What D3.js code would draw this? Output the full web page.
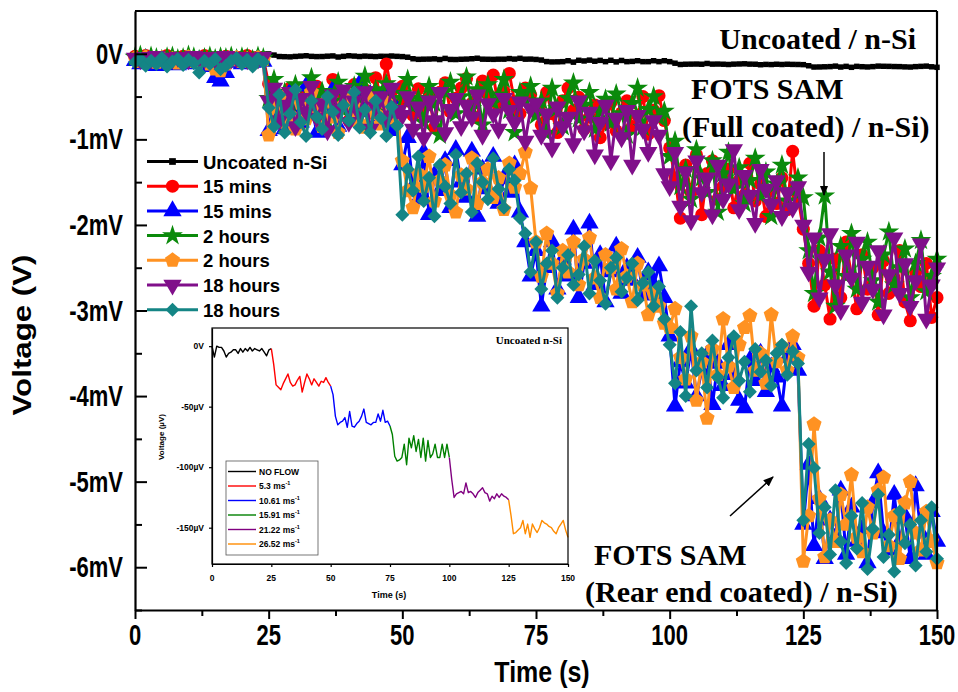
<!DOCTYPE html>
<html>
<head>
<meta charset="utf-8">
<script src="https://cdn.jsdelivr.net/npm/d3@7/dist/d3.min.js"></script>
<style>
  body { margin: 0; background: #fff; }
  svg { display: block; }
</style>
</head>
<body>
<svg id="chart" width="958" height="692"></svg>
<script>
// ---- data (1 s sampling, t = 0 ... 150 s) ----
const timeSec = d3.range(0, 151);

// Uncoated n-Si, voltage in µV (inset; the main plot shows the same trace in mV)
const uncoatedUV = [
  0,-9,0,-1,-1,-4,-9,-6,-5,-3,
  -3,-6,-2,-5,-2,-4,-1,-4,-2,-3,
  -4,-2,-5,-8,-3,-2,-15,-32,-34,-36,
  -31,-27,-23,-30,-33,-32,-28,-25,-38,-30,
  -23,-27,-32,-27,-30,-33,-29,-30,-26,-30,
  -33,-40,-58,-65,-63,-62,-59,-67,-54,-66,
  -67,-64,-62,-58,-52,-63,-64,-65,-63,-63,
  -56,-62,-53,-63,-62,-66,-73,-91,-95,-94,
  -92,-81,-98,-76,-84,-74,-87,-77,-92,-76,
  -95,-78,-92,-89,-81,-92,-92,-81,-92,-81,
  -92,-110,-125,-122,-121,-120,-122,-113,-121,-120,
  -122,-125,-121,-119,-117,-121,-122,-128,-124,-126,
  -122,-125,-122,-124,-125,-127,-140,-155,-154,-152,
  -150,-144,-155,-147,-158,-147,-151,-154,-150,-144,
  -146,-147,-149,-150,-153,-155,-150,-147,-144,-152,
  -158
];

// FOTS SAM (full coated) / n-Si, voltage in mV
const fullCoated15min = [
  -0.03,-0.06,-0.02,-0.05,-0.08,-0.04,-0.02,-0.06,-0.05,-0.03,-0.07,-0.04,-0.06,-0.02,-0.05,-0.08,-0.06,-0.03,-0.05,-0.04,-0.07,-0.02,-0.05,-0.04,-0.06,
  -0.35,-0.62,-0.48,-0.75,-0.40,-0.58,-0.82,-0.45,-0.66,-0.38,-0.71,-0.52,-0.30,-0.64,-0.47,-0.78,-0.36,-0.55,-0.42,-0.69,-0.28,-0.50,-0.12,-0.44,-0.60,
  -0.38,-0.55,-0.72,-0.41,-0.63,-0.50,-0.86,-0.45,-0.34,-0.68,-0.52,-0.40,-0.29,-0.58,-0.75,-0.32,-0.47,-0.25,-0.62,-0.44,-0.23,-0.56,-0.70,-0.40,-0.48,
  -0.62,-0.83,-0.45,-0.70,-0.92,-0.55,-0.40,-0.66,-0.51,-0.88,-0.74,-0.60,-0.98,-0.82,-0.57,-0.90,-0.69,-0.55,-0.85,-0.72,-0.50,-0.94,-0.66,-0.49,-0.78,
  -1.10,-1.45,-1.92,-1.30,-1.62,-1.18,-1.88,-1.40,-1.25,-1.70,-1.55,-1.35,-1.80,-1.48,-1.65,-1.28,-1.72,-1.52,-1.90,-1.60,-1.75,-1.45,-1.82,-1.14,-1.68,
  -2.05,-2.45,-2.95,-2.30,-2.70,-3.10,-2.40,-2.85,-2.20,-2.60,-2.98,-2.35,-2.75,-2.50,-3.05,-2.42,-2.80,-2.62,-2.30,-2.90,-3.12,-2.55,-2.72,-2.45,-3.08,-2.85
];
const fullCoated2h = [
  -0.04,-0.02,-0.06,-0.03,-0.05,-0.07,-0.04,-0.03,-0.06,-0.05,-0.02,-0.04,-0.07,-0.05,-0.03,-0.06,-0.04,-0.05,-0.03,-0.06,-0.04,-0.05,-0.07,-0.03,-0.05,
  -0.52,-0.30,-0.68,-0.45,-0.58,-0.36,-0.74,-0.50,-0.28,-0.62,-0.44,-0.80,-0.55,-0.33,-0.66,-0.48,-0.38,-0.72,-0.26,-0.57,-0.42,-0.64,-0.35,-0.52,-0.70,
  -0.46,-0.30,-0.62,-0.52,-0.80,-0.38,-0.58,-0.95,-0.44,-0.33,-0.70,-0.50,-0.27,-0.64,-0.42,-0.83,-0.36,-0.57,-0.48,-0.30,-0.66,-0.92,-0.45,-0.55,-0.38,
  -0.72,-0.55,-0.93,-0.40,-0.64,-0.85,-0.52,-0.34,-0.76,-0.60,-0.45,-0.88,-0.68,-0.53,-0.81,-0.47,-0.70,-0.95,-0.58,-0.40,-0.86,-0.65,-0.50,-0.75,-0.67,
  -1.20,-1.02,-1.55,-1.35,-1.70,-1.12,-1.45,-1.62,-1.25,-1.85,-1.40,-1.15,-1.58,-1.33,-1.75,-1.48,-1.22,-1.66,-1.38,-1.90,-1.52,-1.30,-1.72,-1.60,-1.45,
  -1.68,-2.30,-2.80,-2.15,-1.66,-2.55,-2.95,-2.25,-2.60,-2.10,-2.75,-2.40,-2.20,-2.65,-2.90,-2.35,-2.08,-2.70,-2.50,-2.28,-2.85,-2.45,-2.18,-2.78,-2.60,-2.40
];
const fullCoated18h = [
  -0.05,-0.07,-0.04,-0.06,-0.03,-0.05,-0.08,-0.06,-0.04,-0.05,-0.07,-0.03,-0.05,-0.06,-0.04,-0.07,-0.05,-0.03,-0.06,-0.05,-0.04,-0.07,-0.05,-0.06,-0.04,
  -0.55,-0.40,-0.78,-0.60,-0.45,-0.85,-0.52,-0.68,-0.38,-0.75,-0.58,-0.90,-0.48,-0.65,-0.42,-0.80,-0.55,-0.70,-0.44,-0.88,-0.62,-0.50,-0.76,-0.40,-0.66,
  -0.72,-0.50,-0.88,-0.62,-0.98,-0.55,-0.78,-0.45,-0.92,-0.65,-0.52,-0.85,-0.60,-0.74,-0.48,-0.95,-0.58,-0.70,-0.88,-0.52,-0.66,-0.80,-0.56,-1.02,-0.64,
  -0.58,-0.95,-0.70,-1.10,-0.62,-0.85,-0.74,-1.05,-0.55,-0.90,-0.68,-1.18,-0.80,-0.60,-1.25,-0.75,-0.98,-0.66,-1.30,-0.72,-0.88,-1.15,-0.78,-0.95,-1.40,
  -1.55,-1.15,-1.78,-1.38,-1.95,-1.25,-1.62,-1.45,-1.88,-1.30,-1.70,-1.52,-1.12,-1.82,-1.42,-1.65,-1.98,-1.35,-1.58,-1.76,-1.48,-1.90,-1.62,-1.80,-1.55,
  -2.00,-2.55,-2.15,-2.85,-2.40,-2.10,-2.70,-3.00,-2.35,-2.62,-2.20,-2.90,-2.48,-2.75,-2.30,-3.05,-2.58,-2.15,-2.80,-2.45,-2.95,-2.65,-2.22,-3.10,-2.70,-2.50
];

// FOTS SAM (rear end coated) / n-Si, voltage in mV
const rearCoated15min = [
  -0.08,-0.12,-0.06,-0.10,-0.14,-0.08,-0.11,-0.07,-0.13,-0.09,-0.06,-0.12,-0.08,-0.10,-0.15,-0.28,-0.32,-0.22,-0.10,-0.08,-0.12,-0.07,-0.10,-0.06,-0.09,
  -0.90,-0.55,-0.72,-0.88,-0.45,-0.65,-0.80,-0.38,-0.60,-0.92,-0.50,-0.70,-0.42,-0.85,-0.62,-0.55,-0.78,-0.35,-0.68,-0.48,-0.82,-0.58,-0.40,-0.90,-0.65,
  -1.30,-0.98,-1.55,-1.70,-1.15,-1.88,-1.42,-1.60,-1.25,-1.80,-1.12,-1.50,-1.68,-1.14,-1.90,-1.35,-1.58,-1.20,-1.75,-1.45,-1.62,-1.30,-1.85,-2.20,-2.60,
  -2.30,-2.95,-2.50,-2.20,-2.75,-2.40,-2.60,-2.05,-2.85,-2.45,-1.98,-2.70,-2.35,-2.90,-2.55,-2.25,-2.80,-2.50,-2.65,-2.38,-2.82,-2.55,-2.70,-2.48,-2.85,
  -3.30,-4.12,-3.60,-3.85,-3.45,-4.00,-3.70,-3.52,-4.10,-3.62,-3.88,-3.40,-3.75,-4.05,-4.14,-3.58,-3.82,-3.50,-3.95,-3.66,-3.78,-4.12,-3.55,-3.40,-3.70,
  -5.50,-4.80,-5.75,-5.20,-5.90,-5.45,-5.65,-5.10,-5.85,-5.30,-5.70,-5.55,-5.95,-5.25,-4.90,-5.60,-5.80,-5.15,-5.70,-5.40,-5.90,-5.05,-5.60,-5.85,-5.35,-5.70
];
const rearCoated2h = [
  -0.05,-0.09,-0.04,-0.07,-0.10,-0.05,-0.08,-0.06,-0.11,-0.07,-0.04,-0.09,-0.06,-0.08,-0.12,-0.18,-0.20,-0.12,-0.07,-0.05,-0.09,-0.06,-0.08,-0.05,-0.07,
  -0.95,-0.62,-0.80,-0.50,-0.72,-0.88,-0.58,-0.76,-0.45,-0.68,-0.85,-0.55,-0.74,-0.92,-0.60,-0.48,-0.78,-0.66,-0.86,-0.52,-0.70,-0.82,-0.57,-0.75,-0.68,
  -1.25,-1.60,-1.80,-1.40,-1.55,-1.20,-1.72,-1.48,-1.30,-1.65,-1.85,-1.42,-1.58,-1.22,-1.75,-1.50,-1.35,-1.68,-1.45,-1.82,-1.28,-1.56,-1.40,-1.15,-1.57,
  -2.20,-2.60,-2.10,-2.45,-2.80,-2.30,-2.55,-2.20,-2.70,-2.40,-2.15,-2.62,-2.85,-2.35,-2.50,-2.75,-2.28,-2.60,-2.90,-2.45,-2.70,-3.05,-2.80,-2.95,-3.15,
  -3.20,-2.98,-3.55,-3.80,-3.30,-4.05,-3.60,-4.26,-3.45,-3.75,-3.10,-3.65,-3.90,-3.40,-3.20,-3.06,-3.70,-3.50,-3.85,-3.05,-3.60,-3.42,-3.70,-3.30,-3.55,
  -5.93,-5.40,-4.33,-5.20,-5.88,-5.45,-5.70,-5.15,-5.50,-4.92,-5.65,-5.82,-5.30,-5.60,-5.10,-4.95,-5.75,-5.40,-5.90,-5.25,-5.00,-5.60,-5.80,-5.35,-5.70,-5.95
];
const rearCoated18h = [
  -0.10,-0.06,-0.14,-0.08,-0.12,-0.05,-0.15,-0.09,-0.06,-0.13,-0.07,-0.11,-0.22,-0.08,-0.12,-0.06,-0.18,-0.14,-0.08,-0.05,-0.12,-0.07,-0.15,-0.06,-0.10,
  -0.63,-0.85,-0.48,-0.92,-0.70,-0.42,-0.80,-0.96,-0.55,-0.74,-0.88,-0.50,-0.68,-0.95,-0.60,-0.78,-0.45,-0.86,-0.65,-0.92,-0.55,-0.75,-0.96,-0.62,-0.84,
  -1.88,-1.35,-1.60,-1.20,-1.72,-1.45,-1.90,-1.30,-1.55,-1.75,-1.18,-1.62,-1.40,-1.85,-1.28,-1.50,-1.70,-1.22,-1.58,-1.80,-1.35,-1.48,-1.92,-2.10,-2.55,
  -2.20,-2.75,-2.45,-2.30,-2.85,-2.50,-2.35,-2.70,-2.58,-2.25,-2.80,-2.42,-2.65,-2.92,-2.50,-2.38,-2.78,-2.62,-2.45,-2.88,-2.68,-2.55,-2.95,-2.72,-3.10,
  -3.40,-3.85,-3.25,-4.00,-2.95,-3.70,-3.50,-3.90,-3.35,-3.78,-4.02,-3.55,-3.30,-3.82,-3.60,-3.95,-3.45,-3.72,-3.58,-3.88,-3.50,-3.40,-3.75,-3.48,-3.62,
  -5.45,-4.56,-4.84,-5.60,-5.30,-5.85,-5.10,-5.70,-5.95,-5.40,-5.78,-5.25,-6.02,-5.55,-5.15,-5.88,-5.62,-6.05,-5.35,-5.72,-5.50,-5.98,-5.45,-5.82,-5.30,-5.90
];

const legendLabels = ["Uncoated n-Si", "15 mins", "15 mins", "2 hours", "2 hours", "18 hours", "18 hours"];
const xTickValues = [0, 25, 50, 75, 100, 125, 150];
const yTickValues = [0, -1, -2, -3, -4, -5, -6];
const yTickLabels = ["0V", "-1mV", "-2mV", "-3mV", "-4mV", "-5mV", "-6mV"];

const insetYTickValues = [0, -50, -100, -150];
const insetYTickLabels = ["0V", "-50\u00b5V", "-100\u00b5V", "-150\u00b5V"];
const flowStageBounds = [0, 25, 50, 75, 100, 125, 150];
const flowStageLabels = ["NO FLOW", "5.3 ms", "10.61 ms", "15.91 ms", "21.22 ms", "26.52 ms"];

// ---- drawing ----
const SANS = "'Liberation Sans', Arial, sans-serif";
const SERIF = "'Liberation Serif', 'Times New Roman', serif";
const svg = d3.select("#chart");

const plot = { left: 135, right: 937, top: 11, bottom: 610 };
const x = d3.scaleLinear().domain([0, 150]).range([plot.left, plot.right]);
const y = d3.scaleLinear().domain([-6.5, 0.5]).range([plot.bottom, plot.top]);

function label(parent, px, py, str, o) {
  const g = parent.append("g")
    .attr("transform", `translate(${px},${py})` + (o.rotate ? ` rotate(${o.rotate})` : "") +
      ` scale(${o.sx || 1},${o.sy || 1})`);
  return g.append("text")
    .attr("text-anchor", o.anchor || "start")
    .attr("font-family", o.family || SANS)
    .attr("font-weight", "bold")
    .attr("font-size", o.size)
    .attr("fill", "#000")
    .text(str);
}

// symbol types
const pentagon = {
  draw(ctx, size) {
    const r = Math.sqrt(size / 2.378);
    for (let i = 0; i < 5; i++) {
      const a = -Math.PI / 2 + i * 2 * Math.PI / 5;
      const px = r * Math.cos(a), py = r * Math.sin(a);
      if (i === 0) ctx.moveTo(px, py); else ctx.lineTo(px, py);
    }
    ctx.closePath();
  }
};

const series = [
  { values: uncoatedUV.map(v => v / 1000), color: "#000000", type: d3.symbolSquare, size: 30, rot: 0, width: 3.8 },
  { values: fullCoated15min, color: "#ff0000", type: d3.symbolCircle, size: 135, rot: 0, width: 3 },
  { values: rearCoated15min, color: "#0000ff", type: d3.symbolTriangle, size: 145, rot: 0, width: 3 },
  { values: fullCoated2h, color: "#0b8a0b", type: d3.symbolStar, size: 135, rot: 0, width: 3 },
  { values: rearCoated2h, color: "#ff9222", type: pentagon, size: 150, rot: 0, width: 3 },
  { values: fullCoated18h, color: "#800f8a", type: d3.symbolTriangle, size: 145, rot: 180, width: 3 },
  { values: rearCoated18h, color: "#148585", type: d3.symbolSquare, size: 98, rot: 45, width: 3 }
];

const line = d3.line().x((d, i) => x(timeSec[i])).y(d => y(d));

const dataLayer = svg.append("g");
series.forEach(s => {
  const g = dataLayer.append("g");
  g.append("path").attr("d", line(s.values)).attr("fill", "none")
    .attr("stroke", s.color).attr("stroke-width", s.width).attr("stroke-linejoin", "round");
  const sym = d3.symbol().type(s.type).size(s.size);
  g.selectAll("path.m").data(s.values).join("path").attr("class", "m")
    .attr("d", sym)
    .attr("transform", (d, i) => `translate(${x(timeSec[i])},${y(d)}) rotate(${s.rot})`)
    .attr("fill", s.color);
});

// axes
const axisG = svg.append("g");
axisG.append("g").attr("transform", `translate(0,${plot.bottom})`)
  .call(d3.axisBottom(x).tickValues(xTickValues).tickSize(9).tickSizeOuter(0).tickFormat(""));
axisG.append("g").attr("transform", `translate(0,${plot.bottom})`)
  .call(d3.axisBottom(x).tickValues(d3.range(12.5, 150, 25)).tickSize(6).tickSizeOuter(0).tickFormat(""))
  .select(".domain").remove();
axisG.append("g").attr("transform", `translate(${plot.left},0)`)
  .call(d3.axisLeft(y).tickValues(yTickValues).tickSize(-12).tickSizeOuter(0).tickFormat(""));
axisG.append("g").attr("transform", `translate(${plot.left},0)`)
  .call(d3.axisLeft(y).tickValues(d3.range(-6.5, 0.5, 1)).tickSize(-7).tickSizeOuter(0).tickFormat(""))
  .select(".domain").remove();
axisG.selectAll(".tick line").attr("stroke", "#000").attr("stroke-width", 2);
axisG.selectAll(".domain").attr("stroke", "#000").attr("stroke-width", 2.2);
axisG.append("line").attr("x1", plot.left).attr("x2", plot.right).attr("y1", plot.top).attr("y2", plot.top)
  .attr("stroke", "#000").attr("stroke-width", 2.2);
axisG.append("line").attr("x1", plot.right).attr("x2", plot.right).attr("y1", plot.top).attr("y2", plot.bottom)
  .attr("stroke", "#000").attr("stroke-width", 2.2);

// tick labels
xTickValues.forEach(v => label(svg, x(v), 645, String(v), { anchor: "middle", size: 22, sy: 1.3 }));
yTickValues.forEach((v, i) => label(svg, 123, y(v) + 10, yTickLabels[i], { anchor: "end", size: 22, sy: 1.3 }));
label(svg, 542, 682, "Time (s)", { anchor: "middle", size: 25, sy: 1.2 });
label(svg, 31, 335, "Voltage (V)", { anchor: "middle", size: 25, rotate: -90, sx: 1.25 });

// main legend
const legend = svg.append("g");
legendLabels.forEach((txt, i) => {
  const cy = 161.5 + i * 24.7;
  const s = series[i];
  legend.append("line").attr("x1", 147).attr("x2", 198).attr("y1", cy).attr("y2", cy)
    .attr("stroke", s.color).attr("stroke-width", 3);
  legend.append("path").attr("d", d3.symbol().type(s.type).size(i === 0 ? 45 : s.size)())
    .attr("transform", `translate(172.5,${cy}) rotate(${s.rot})`).attr("fill", s.color);
  label(legend, 203, cy + 7, txt, { size: 18.5 });
});

// annotations
const defs = svg.append("defs");
defs.append("marker").attr("id", "head").attr("viewBox", "0 0 10 10").attr("refX", 9).attr("refY", 5)
  .attr("markerWidth", 7).attr("markerHeight", 7).attr("orient", "auto")
  .append("path").attr("d", "M0,1 L10,5 L0,9 z").attr("fill", "#000");
const notes = svg.append("g");
label(notes, 916, 49, "Uncoated / n-Si", { anchor: "end", family: SERIF, size: 30 });
label(notes, 691, 99, "FOTS SAM", { family: SERIF, size: 30 });
label(notes, 682, 137, "(Full coated) / n-Si)", { family: SERIF, size: 30 });
label(notes, 594, 565, "FOTS SAM", { family: SERIF, size: 30 });
label(notes, 585, 602, "(Rear end coated) / n-Si)", { family: SERIF, size: 30 });
notes.append("line").attr("x1", 824).attr("y1", 152).attr("x2", 824).attr("y2", 195)
  .attr("stroke", "#000").attr("stroke-width", 1.5).attr("marker-end", "url(#head)");
notes.append("line").attr("x1", 730).attr("y1", 516).attr("x2", 773).attr("y2", 477)
  .attr("stroke", "#000").attr("stroke-width", 1.5).attr("marker-end", "url(#head)");

// ---- inset: uncoated n-Si under increasing flow velocity ----
const inset = { left: 212, right: 568, top: 328, bottom: 564 };
const ix = d3.scaleLinear().domain([0, 150]).range([inset.left, inset.right]);
const iy = d3.scaleLinear().domain([-180, 15]).range([inset.bottom, inset.top]);
const stageColors = ["#000000", "#ff0000", "#0000ff", "#008000", "#800080", "#ff8c00"];

const ig = svg.append("g");
ig.append("rect").attr("x", inset.left).attr("y", inset.top)
  .attr("width", inset.right - inset.left).attr("height", inset.bottom - inset.top)
  .attr("fill", "#fff");
const iline = d3.line().x(d => ix(d.t)).y(d => iy(d.v));
flowStageLabels.forEach((lab, k) => {
  const pts = d3.range(flowStageBounds[k], flowStageBounds[k + 1] + 1)
    .map(t => ({ t: timeSec[t], v: uncoatedUV[t] }));
  ig.append("path").attr("d", iline(pts)).attr("fill", "none")
    .attr("stroke", stageColors[k]).attr("stroke-width", 1.4).attr("stroke-linejoin", "round");
});
const iaxes = ig.append("g");
iaxes.append("g").attr("transform", `translate(0,${inset.bottom})`)
  .call(d3.axisBottom(ix).tickValues(xTickValues).tickSize(3).tickSizeOuter(0).tickFormat(""));
iaxes.append("g").attr("transform", `translate(${inset.left},0)`)
  .call(d3.axisLeft(iy).tickValues(insetYTickValues).tickSize(3).tickSizeOuter(0).tickFormat(""));
iaxes.selectAll(".domain, .tick line").attr("stroke", "#000").attr("stroke-width", 1.2);
ig.append("rect").attr("x", inset.left).attr("y", inset.top)
  .attr("width", inset.right - inset.left).attr("height", inset.bottom - inset.top)
  .attr("fill", "none").attr("stroke", "#000").attr("stroke-width", 1.2);

xTickValues.forEach(v => label(ig, ix(v), 581, String(v), { anchor: "middle", size: 8.5 }));
insetYTickValues.forEach((v, i) => label(ig, 204, iy(v) + 3, insetYTickLabels[i], { anchor: "end", size: 8.5 }));
label(ig, 389, 598, "Time (s)", { anchor: "middle", size: 9 });
label(ig, 164, 437, "Voltage (\u00b5V)", { anchor: "middle", size: 8, rotate: -90 });
label(ig, 562, 344, "Uncoated n-Si", { anchor: "end", family: SERIF, size: 11 });

// inset legend
ig.append("rect").attr("x", 226).attr("y", 461).attr("width", 92).attr("height", 94)
  .attr("fill", "#fff").attr("stroke", "#555").attr("stroke-width", 0.8);
flowStageLabels.forEach((lab, k) => {
  const cy = 471.5 + k * 14.5;
  ig.append("line").attr("x1", 228).attr("x2", 256).attr("y1", cy).attr("y2", cy)
    .attr("stroke", stageColors[k]).attr("stroke-width", 1.4);
  const t = label(ig, 259, cy + 3, lab, { size: 8.5 });
  if (k > 0) t.append("tspan").attr("dy", -4).attr("font-size", 5.5).text("-1");
});
</script>
</body>
</html>
